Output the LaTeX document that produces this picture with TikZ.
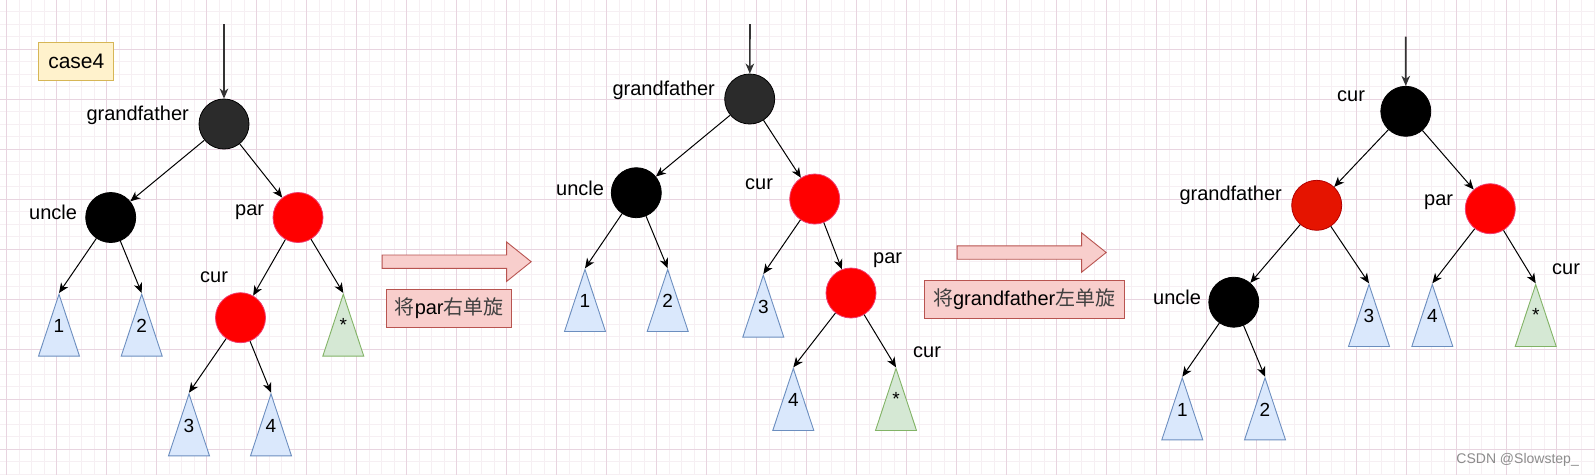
\documentclass[tikz,border=0pt]{standalone}
\usepackage{fontspec}
\setmainfont{Liberation Sans}
\newfontfamily\cjk{Noto Sans CJK SC}
\usepackage{tikz}
\usetikzlibrary{arrows.meta, positioning, shapes.geometric, shapes.arrows}

\definecolor{gridmajor}{RGB}{232,212,224}
\definecolor{gridminor}{RGB}{246,239,243}
\definecolor{darknode}{RGB}{43,43,43}
\definecolor{rededge}{RGB}{240,60,110}
\definecolor{gfred}{RGB}{229,20,0}
\definecolor{gfredge}{RGB}{178,0,0}
\definecolor{blufill}{RGB}{218,232,252}
\definecolor{bluedge}{RGB}{108,142,191}
\definecolor{grnfill}{RGB}{213,232,212}
\definecolor{grnedge}{RGB}{130,179,102}
\definecolor{pinkfill}{RGB}{248,206,204}
\definecolor{pinkedge}{RGB}{184,84,80}
\definecolor{notefill}{RGB}{255,242,204}
\definecolor{noteedge}{RGB}{214,182,86}

\begin{document}
\begin{tikzpicture}[
    x=1pt, y=-1pt,
    rbnode/.style={draw, circle, minimum size=50pt, inner sep=0pt, line width=0.8pt},
    blknode/.style={rbnode, draw=black, fill=black},
    graynode/.style={rbnode, draw=black, fill=darknode},
    rednode/.style={rbnode, draw=rededge, fill=red},
    gfnode/.style={rbnode, draw=gfredge, fill=gfred},
    subtree/.style={draw=bluedge, fill=blufill, isosceles triangle, isosceles triangle stretches,
        shape border rotate=90, minimum width=41pt, minimum height=62pt, inner sep=0pt,
        text depth=21pt, line width=0.9pt, anchor=apex, font=\fontsize{19}{22}\selectfont},
    starsub/.style={subtree, draw=grnedge, fill=grnfill},
    lbl/.style={inner sep=0pt, font=\fontsize{20}{24}\selectfont},
    arrow/.style={-{Stealth[length=10pt, width=8.5pt, inset=3pt]}, line width=1pt},
    entry/.style={arrow, line width=1.6pt, draw=black!80},
    rotarrow/.style={single arrow, draw=pinkedge, fill=pinkfill, line width=0.9pt, inner sep=0pt,
        inner ysep=6.25pt, minimum height=149pt, single arrow head extend=13pt,
        single arrow tip angle=77.5, anchor=tail},
    rotbox/.style={draw=pinkedge, fill=pinkfill, line width=0.9pt, minimum height=38pt, inner sep=0pt,
        font=\fontsize{20}{24}\selectfont}
]

% Background grid
\useasboundingbox (0,0) rectangle (1595,475);
\fill[white] (0,0) rectangle (1595,475);
\foreach \i in {1,...,128} \draw[gridminor, line width=1pt] ({-5.8+12.5*\i},0) -- ({-5.8+12.5*\i},475);
\foreach \j in {0,...,37} \draw[gridminor, line width=1pt] (0,{11.8+12.5*\j}) -- (1595,{11.8+12.5*\j});
\foreach \i in {0,...,31} \draw[gridmajor, line width=1pt] ({6.7+50*\i},0) -- ({6.7+50*\i},475);
\foreach \j in {1,...,9} \draw[gridmajor, line width=1pt] (0,{-0.7+50*\j}) -- (1595,{-0.7+50*\j});

\node[draw=noteedge, fill=notefill, line width=0.9pt, minimum width=75pt, minimum height=38pt,
    inner sep=0pt, font=\fontsize{21}{24}\selectfont] (case) at (76.3,61.7) {case4};

% Tree 1 (before)
\coordinate (topA) at (224,24);
\node[graynode] (gfA) at (224,124) {};
\node[blknode] (uncleA) at (110.7,217.5) {};
\node[rednode] (parA) at (298,217.5) {};
\node[rednode] (curA) at (240.5,317.7) {};
\node[subtree] (oneA) at (59,293) {1};
\node[subtree] (twoA) at (141.7,293) {2};
\node[starsub] (starA) at (343.3,293) {*};
\node[subtree] (threeA) at (189,392.7) {3};
\node[subtree] (fourA) at (271,392.7) {4};

\node[lbl, anchor=base east] (gfLblA) at (189,120) {grandfather};
\node[lbl, anchor=base west] (uncleLblA) at (29,219) {uncle};
\node[lbl, anchor=base west] (parLblA) at (235,215) {par};
\node[lbl, anchor=base west] (curLblA) at (200,282.5) {cur};

\draw[entry] (topA) -- (gfA);
\draw[arrow] (gfA) -- (uncleA);
\draw[arrow] (gfA) -- (parA);
\draw[arrow] (uncleA) -- (oneA.apex);
\draw[arrow] (uncleA) -- (twoA.apex);
\draw[arrow] (parA) -- (curA);
\draw[arrow] (parA) -- (starA.apex);
\draw[arrow] (curA) -- (threeA.apex);
\draw[arrow] (curA) -- (fourA.apex);

% Rotation 1
\node[rotarrow] (rotAB) at (381.7,261.7) {};
\node[rotbox, minimum width=125pt] (boxAB) at (449.2,308.5) {{\cjk\color{black!75}将}par{\cjk\color{black!75}右单旋}};

% Tree 2 (after right rotation)
\coordinate (topB) at (750,24);
\node[graynode] (gfB) at (749.7,99) {};
\node[blknode] (uncleB) at (636.3,192.7) {};
\node[rednode] (curB) at (814.7,199) {};
\node[rednode] (parB) at (851,293) {};
\node[subtree] (oneB) at (585,268.3) {1};
\node[subtree] (twoB) at (667.7,268.3) {2};
\node[subtree] (threeB) at (763.3,274) {3};
\node[subtree] (fourB) at (793.3,367.3) {4};
\node[starsub] (starB) at (896,367.3) {*};

\node[lbl, anchor=base east] (gfLblB) at (715,95) {grandfather};
\node[lbl, anchor=base west] (uncleLblB) at (556,195) {uncle};
\node[lbl, anchor=base west] (curLblB) at (745,189) {cur};
\node[lbl, anchor=base west] (parLblB) at (873,263.7) {par};
\node[lbl, anchor=base west] (starLblB) at (913,357) {cur};

\draw[entry] (topB) -- (gfB);
\draw[arrow] (gfB) -- (uncleB);
\draw[arrow] (gfB) -- (curB);
\draw[arrow] (uncleB) -- (oneB.apex);
\draw[arrow] (uncleB) -- (twoB.apex);
\draw[arrow] (curB) -- (threeB.apex);
\draw[arrow] (curB) -- (parB);
\draw[arrow] (parB) -- (fourB.apex);
\draw[arrow] (parB) -- (starB.apex);

% Rotation 2
\node[rotarrow] (rotBC) at (956.7,252.5) {};
\node[rotbox, minimum width=200pt] (boxBC) at (1024.2,299.5) {{\cjk\color{black!75}将}grandfather{\cjk\color{black!75}左单旋}};

% Tree 3 (after left rotation)
\coordinate (topC) at (1405.7,36.7);
\node[blknode] (curC) at (1405.8,111.3) {};
\node[gfnode] (gfC) at (1316.7,205.3) {};
\node[rednode] (parC) at (1490.3,208.7) {};
\node[blknode] (uncleC) at (1233.8,302.2) {};
\node[subtree] (threeC) at (1369,283.3) {3};
\node[subtree] (fourC) at (1432.3,283.3) {4};
\node[starsub] (starC) at (1535.7,283.3) {*};
\node[subtree] (oneC) at (1182.3,376.7) {1};
\node[subtree] (twoC) at (1265,376.7) {2};

\node[lbl, anchor=base west] (curLblC) at (1337,101) {cur};
\node[lbl, anchor=base east] (gfLblC) at (1282,200.5) {grandfather};
\node[lbl, anchor=base west] (parLblC) at (1424,205.5) {par};
\node[lbl, anchor=base west] (uncleLblC) at (1153,304.5) {uncle};
\node[lbl, anchor=base west] (starLblC) at (1552,274) {cur};

\draw[entry] (topC) -- (curC);
\draw[arrow] (curC) -- (gfC);
\draw[arrow] (curC) -- (parC);
\draw[arrow] (gfC) -- (uncleC);
\draw[arrow] (gfC) -- (threeC.apex);
\draw[arrow] (parC) -- (fourC.apex);
\draw[arrow] (parC) -- (starC.apex);
\draw[arrow] (uncleC) -- (oneC.apex);
\draw[arrow] (uncleC) -- (twoC.apex);

\node[inner sep=0pt, anchor=base east, text=black!45, font=\fontsize{14}{16}\selectfont] (mark) at (1579,463) {CSDN @Slowstep\_};

\end{tikzpicture}
\end{document}
